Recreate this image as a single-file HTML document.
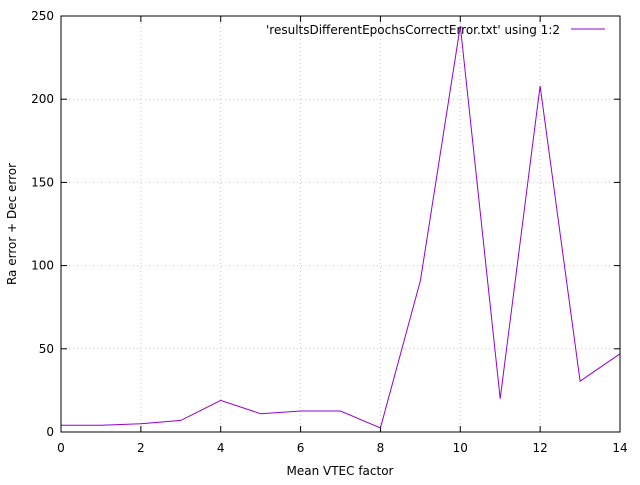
<!DOCTYPE html>
<html><head><meta charset="utf-8"><style>
body{margin:0;background:#fff;}
svg text{font-family:"DejaVu Sans","Liberation Sans",sans-serif;font-size:12px;fill:#000;}
</style></head><body>
<svg id="chart" width="640" height="480" xmlns="http://www.w3.org/2000/svg">
<g id="grid"></g>
<g id="axes"></g>
<path id="series" fill="none" stroke="#9400d3" stroke-width="1"/>
<rect x="61" y="16" width="559" height="416" fill="none" stroke="#000" stroke-width="1"/>
<text x="340" y="475" text-anchor="middle">Mean VTEC factor</text>
<text transform="translate(16,224) rotate(-90)" text-anchor="middle">Ra error + Dec error</text>
<g>
<text x="560" y="34" text-anchor="end">'resultsDifferentEpochsCorrectError.txt' using 1:2</text>
<line x1="571" y1="29" x2="605" y2="29" stroke="#9400d3" stroke-width="1"/>
</g>
</svg>
<script>
const xValues=[0,1,2,3,4,5,6,7,8,9,10,11,12,13,14];
const yValues=[4,4,5,7,19,11,12.6,12.6,2.4,91,244,20,208,30.5,47];
const xTicks=[0,2,4,6,8,10,12,14];
const yTicks=[0,50,100,150,200,250];
const X0=61,X1=620,Y0=432,Y1=16;
const sx=v=>X0+(v-0)/(14-0)*(X1-X0);
const sy=v=>Y0-(v-0)/(250-0)*(Y0-Y1);
const NS="http://www.w3.org/2000/svg";
const grid=document.getElementById('grid'),axes=document.getElementById('axes');
function mk(tag,attrs,parent){const e=document.createElementNS(NS,tag);for(const k in attrs)e.setAttribute(k,attrs[k]);parent.appendChild(e);return e;}
xTicks.forEach(t=>{
  const x=sx(t);
  if(t>0&&t<14){const g=mk('line',{x1:x,y1:Y0,x2:x,y2:Y1,stroke:'#c8c8c8','stroke-dasharray':'1,3'},grid);
  
  }
  mk('line',{x1:x,y1:Y0,x2:x,y2:Y0-6,stroke:'#000'},axes);
  mk('line',{x1:x,y1:Y1,x2:x,y2:Y1+6,stroke:'#000'},axes);
  const tx=mk('text',{x:x,y:452,'text-anchor':'middle'},axes);tx.textContent=t;
  
  
});
yTicks.forEach(t=>{
  const y=sy(t);
  if(t>0&&t<250){const g=mk('line',{x1:X0,y1:y,x2:X1,y2:y,stroke:'#c8c8c8','stroke-dasharray':'1,3'},grid);
  
  }
  mk('line',{x1:X0,y1:y,x2:X0+6,y2:y,stroke:'#000'},axes);
  mk('line',{x1:X1,y1:y,x2:X1-6,y2:y,stroke:'#000'},axes);
  const tx=mk('text',{x:54,y:y+4,'text-anchor':'end'},axes);tx.textContent=t;
  
  
});
document.getElementById('series').setAttribute('d',xValues.map((v,i)=>(i?'L':'M')+sx(v).toFixed(1)+','+sy(yValues[i]).toFixed(1)).join(''));
</script>
</body></html>
